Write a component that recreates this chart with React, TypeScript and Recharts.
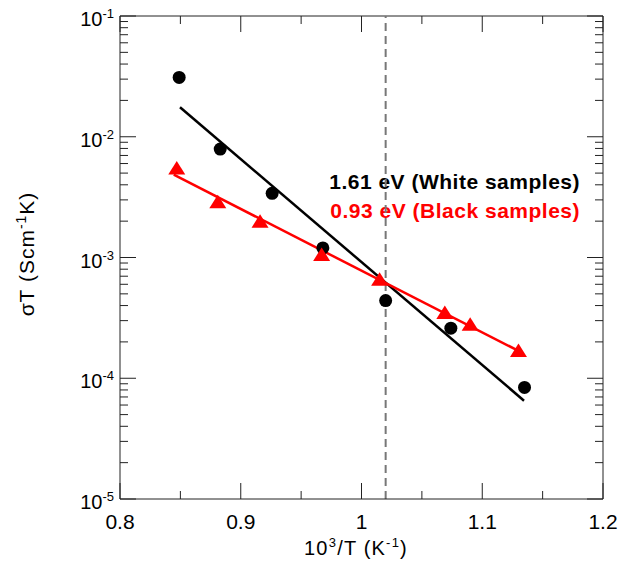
import React from "react";
import {
  ScatterChart,
  Scatter,
  XAxis,
  YAxis,
  ReferenceLine,
} from "recharts";

// ---- data ----
const whiteX = [0.849, 0.883, 0.926, 0.968, 1.02, 1.074, 1.135];
const whiteY = [0.031, 0.0079, 0.0034, 0.0012, 0.00044, 0.00026, 0.000084];

const blackX = [0.847, 0.881, 0.916, 0.967, 1.015, 1.069, 1.09, 1.13];
const blackY = [0.0055, 0.0029, 0.002, 0.00106, 0.00066, 0.00035, 0.00028, 0.00017];

const whiteFitX = [0.8497, 1.1346];
const whiteFitY = [0.01754, 0.0000652];
const blackFitX = [0.8445, 1.1313];
const blackFitY = [0.00485, 0.000166];

const dashedX = 1.02;

const xTicks = [0.8, 0.85, 0.9, 0.95, 1.0, 1.05, 1.1, 1.15, 1.2];
const xMajor = [0.8, 0.9, 1.0, 1.1, 1.2];
const xLabels = ["0.8", "0.9", "1", "1.1", "1.2"];
const decades = [-5, -4, -3, -2, -1];
const yTicks: number[] = [];
decades.forEach((d, i) => {
  yTicks.push(Math.pow(10, d));
  if (i < decades.length - 1) {
    for (let m = 2; m <= 9; m++) yTicks.push(m * Math.pow(10, d));
  }
});

const labelWhite = "1.61 eV (White samples)";
const labelBlack = "0.93 eV (Black samples)";

const zip = (xs: number[], ys: number[]) => xs.map((x, i) => ({ x, y: ys[i] }));

// ---- layout ----
const W = 632;
const H = 566;
const PLOT_TOP = 16;
const PLOT_RIGHT = 603;
const FONT = '"Liberation Sans", Arial, Helvetica, sans-serif';
const AXIS_COLOR = "#222";

const XTick = (props: any) => {
  const { x, y, payload } = props;
  const v = payload.value;
  const idx = xMajor.findIndex((m) => Math.abs(m - v) < 1e-9);
  const major = idx >= 0;
  const len = major ? 16 : 8;
  return (
    <g>
      <line x1={x} x2={x} y1={y} y2={y - len} stroke={AXIS_COLOR} strokeWidth={1} />
      <line x1={x} x2={x} y1={PLOT_TOP} y2={PLOT_TOP + len} stroke={AXIS_COLOR} strokeWidth={1} />
      {major && (
        <text x={x} y={y + 30} textAnchor="middle" fontSize={21} fontFamily={FONT} fill="#000">
          {xLabels[idx]}
        </text>
      )}
    </g>
  );
};

const YTick = (props: any) => {
  const { x, y, payload } = props;
  const v = payload.value;
  const lg = Math.log10(v);
  const major = Math.abs(lg - Math.round(lg)) < 1e-6;
  const len = major ? 16 : 8;
  return (
    <g>
      <line x1={x} x2={x + len} y1={y} y2={y} stroke={AXIS_COLOR} strokeWidth={1} />
      <line x1={PLOT_RIGHT - len} x2={PLOT_RIGHT} y1={y} y2={y} stroke={AXIS_COLOR} strokeWidth={1} />
      {major && (
        <text x={x - 6} y={y + 10} textAnchor="end" fontSize={20} fontFamily={FONT} fill="#000">
          10
          <tspan fontSize={13} dy={-8}>
            {String(Math.round(lg))}
          </tspan>
        </text>
      )}
    </g>
  );
};

const Circle = (p: any) => <circle cx={p.cx} cy={p.cy} r={6.5} fill="#000" />;
const Tri = (p: any) => (
  <polygon
    points={`${p.cx},${p.cy - 7} ${p.cx - 8.5},${p.cy + 6.5} ${p.cx + 8.5},${p.cy + 6.5}`}
    fill="#ff0000"
  />
);
const NoShape = () => <g />;

export default function App() {
  return (
    <div style={{ position: "absolute", left: 0, top: 0, width: W, height: H, background: "#fff" }}>
      <ScatterChart
        width={W}
        height={H}
        margin={{ top: 16, right: 29, bottom: 37, left: 40 }}
        style={{ fontFamily: FONT }}
      >
        <XAxis
          type="number"
          dataKey="x"
          domain={[0.8, 1.2]}
          ticks={xTicks}
          interval={0}
          tickSize={0}
          tickMargin={0}
          tickLine={false}
          tick={<XTick />}
          axisLine={{ stroke: AXIS_COLOR, strokeWidth: 1 }}
          height={30}
          allowDataOverflow
        />
        <YAxis
          type="number"
          dataKey="y"
          scale="log"
          domain={[1e-5, 1e-1]}
          ticks={yTicks}
          interval={0}
          tickSize={0}
          tickMargin={0}
          tickLine={false}
          tick={<YTick />}
          axisLine={{ stroke: AXIS_COLOR, strokeWidth: 1 }}
          width={80}
          allowDataOverflow
        />
        <ReferenceLine y={1e-1} stroke={AXIS_COLOR} strokeWidth={1} />
        <ReferenceLine x={1.2} stroke={AXIS_COLOR} strokeWidth={1} />
        <ReferenceLine x={dashedX} stroke="#777" strokeWidth={2} strokeDasharray="8 5" />
        <Scatter
          data={zip(whiteFitX, whiteFitY)}
          line={{ stroke: "#000", strokeWidth: 2.5 }}
          shape={<NoShape />}
          isAnimationActive={false}
        />
        <Scatter
          data={zip(blackFitX, blackFitY)}
          line={{ stroke: "#ff0000", strokeWidth: 2.5 }}
          shape={<NoShape />}
          isAnimationActive={false}
        />
        <Scatter data={zip(whiteX, whiteY)} shape={<Circle />} isAnimationActive={false} />
        <Scatter data={zip(blackX, blackY)} shape={<Tri />} isAnimationActive={false} />
        <text
          x={580}
          y={189}
          textAnchor="end"
          fontSize={21}
          fontWeight="bold"
          letterSpacing={0.5}
          fontFamily={FONT}
          fill="#000"
        >
          {labelWhite}
        </text>
        <text
          x={580}
          y={218}
          textAnchor="end"
          fontSize={21}
          fontWeight="bold"
          letterSpacing={0.5}
          fontFamily={FONT}
          fill="#ff0000"
        >
          {labelBlack}
        </text>
        <text
          x={356}
          y={555}
          textAnchor="middle"
          fontSize={20}
          letterSpacing={1.2}
          fontFamily={FONT}
          fill="#000"
        >
          10
          <tspan fontSize={13} dy={-8}>3</tspan>
          <tspan dy={8}>/T (K</tspan>
          <tspan fontSize={13} dy={-8}>-1</tspan>
          <tspan dy={8}>)</tspan>
        </text>
        <text
          x={34}
          y={254}
          textAnchor="middle"
          fontSize={21}
          letterSpacing={1}
          fontFamily={FONT}
          fill="#000"
          transform="rotate(-90, 34, 254)"
        >
          σT (Scm
          <tspan fontSize={14} dy={-8}>-1</tspan>
          <tspan dy={8}>K)</tspan>
        </text>
      </ScatterChart>
    </div>
  );
}
